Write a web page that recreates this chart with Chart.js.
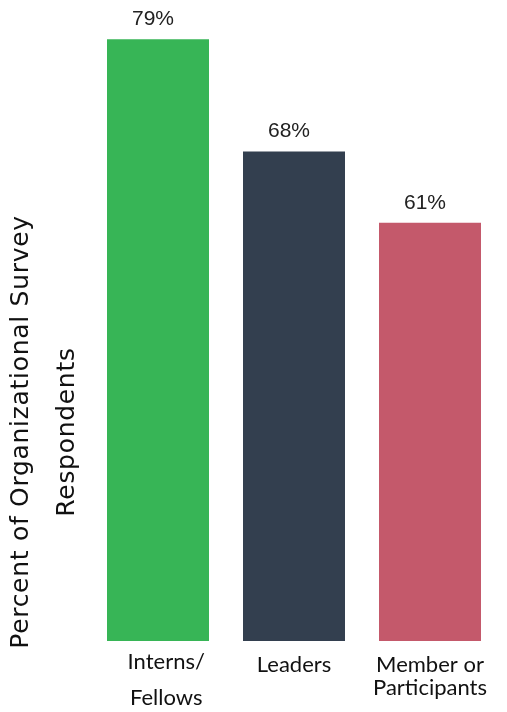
<!DOCTYPE html>
<html>
<head>
<meta charset="utf-8">
<script src="https://cdn.jsdelivr.net/npm/chart.js@4"></script>
<style>
  html, body { margin: 0; padding: 0; background: #fff; }
  #wrap { width: 507px; height: 712px; }
</style>
</head>
<body>
<div id="wrap"><canvas id="c" width="507" height="712"></canvas></div>
<script>
const categories = [["\u2003Interns/", "", "\u2003Fellows"], ["Leaders"], ["Member or", "Participants"]];
const values = [79, 68, 61];
const valueLabels = ["79%", "68%", "61%"];
const barColors = ["#37b556", "#333f4f", "#c4596b"];
const yTitle = ["Percent of Organizational Survey", "Respondents"];

// value labels above the bars
const topLabels = {
  id: "topLabels",
  afterDatasetsDraw(chart) {
    const ctx = chart.ctx;
    const meta = chart.getDatasetMeta(0);
    ctx.save();
    ctx.font = "21px 'Liberation Sans', Arial, sans-serif";
    ctx.fillStyle = "#222";
    ctx.textAlign = "center";
    ctx.textBaseline = "middle";
    meta.data.forEach((bar, i) => {
      ctx.fillText(valueLabels[i], bar.x - 5, bar.y - 20);
    });
    ctx.restore();
  },
};

// rotated y title, two centred lines
const sideTitle = {
  id: "sideTitle",
  afterDraw(chart) {
    const ctx = chart.ctx;
    const area = chart.chartArea;
    ctx.save();
    ctx.font = "25px 'DejaVu Sans', sans-serif";
    ctx.letterSpacing = "0.7px";
    ctx.fillStyle = "#111";
    ctx.textAlign = "center";
    ctx.textBaseline = "middle";
    ctx.translate(0, area.bottom - 209);
    ctx.rotate(-Math.PI / 2);
    ctx.fillText(yTitle[0], 0, 21);
    ctx.fillText(yTitle[1], 0, 67);
    ctx.restore();
  },
};

new Chart(document.getElementById("c"), {
  type: "bar",
  data: {
    labels: categories,
    datasets: [
      {
        data: values,
        backgroundColor: barColors,
        barPercentage: 0.75,
        categoryPercentage: 1,
      },
    ],
  },
  options: {
    responsive: false,
    animation: false,
    layout: { padding: { top: 29, left: 90, right: 9, bottom: 0 } },
    plugins: {
      legend: { display: false },
      tooltip: { enabled: false },
    },
    scales: {
      x: {
        grid: { display: false, drawTicks: false },
        border: { display: false },
        afterFit: (scale) => { scale.height = 71; },
        ticks: {
          color: "#111",
          padding: 12,
          maxRotation: 0,
          autoSkip: false,
          font: (c) => ({
            family: "Lato, 'Noto Sans', sans-serif",
            size: 22,
            lineHeight: c.index === 0 ? "18px" : "23px",
          }),
        },
      },
      y: {
        display: false,
        min: 20,
        max: 80,
      },
    },
  },
  plugins: [topLabels, sideTitle],
});
</script>
</body>
</html>
